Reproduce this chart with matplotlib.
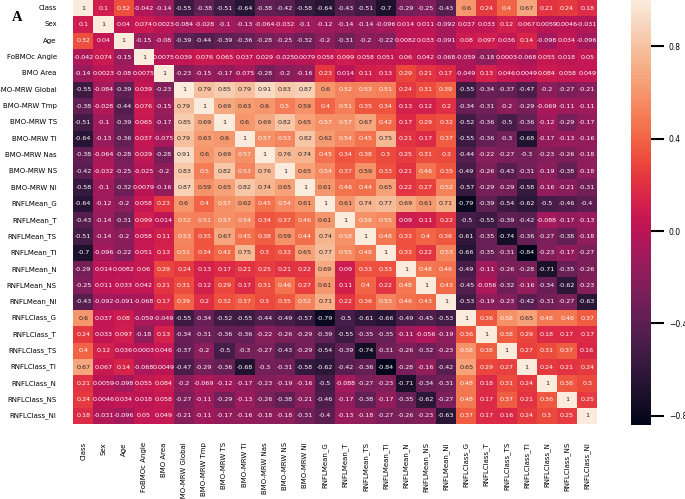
import numpy as np
import matplotlib
matplotlib.use("Agg")
import matplotlib.pyplot as plt
import seaborn as sns

labels = ["Class", "Sex", "Age", "FoBMOc Angle", "BMO Area",
          "BMO-MRW Global", "BMO-MRW Tmp", "BMO-MRW TS", "BMO-MRW TI",
          "BMO-MRW Nas", "BMO-MRW NS", "BMO-MRW NI",
          "RNFLMean_G", "RNFLMean_T", "RNFLMean_TS", "RNFLMean_TI",
          "RNFLMean_N", "RNFLMean_NS", "RNFLMean_NI",
          "RNFLClass_G", "RNFLClass_T", "RNFLClass_TS", "RNFLClass_TI",
          "RNFLClass_N", "RNFLClass_NS", "RNFLClass_NI"]

# upper triangle of the correlation matrix, each row starts right after the diagonal
upper = [
    [0.1, 0.32, -0.042, -0.14, -0.55, -0.38, -0.51, -0.64, -0.38, -0.42, -0.58, -0.64, -0.43, -0.51, -0.7, -0.29, -0.25, -0.43, 0.6, 0.24, 0.4, 0.67, 0.21, 0.24, 0.18],
    [0.04, 0.074, 0.0023, -0.084, -0.028, -0.1, -0.13, -0.064, -0.032, -0.1, -0.12, -0.14, -0.14, -0.096, 0.014, 0.011, -0.092, 0.037, 0.033, 0.12, 0.067, 0.0059, 0.0046, -0.031],
    [-0.15, -0.08, -0.39, -0.44, -0.39, -0.36, -0.28, -0.25, -0.32, -0.2, -0.31, -0.2, -0.22, 0.0082, 0.033, -0.091, 0.08, 0.097, 0.036, 0.14, -0.098, 0.034, -0.096],
    [0.0075, 0.039, 0.076, 0.065, 0.037, 0.029, -0.025, 0.0079, 0.058, 0.099, 0.058, 0.051, 0.06, 0.042, -0.068, -0.059, -0.18, 0.0003, -0.068, 0.055, 0.018, 0.05],
    [-0.23, -0.15, -0.17, -0.075, -0.28, -0.2, -0.16, 0.23, 0.014, 0.11, 0.13, 0.29, 0.21, 0.17, -0.049, 0.13, 0.046, 0.0049, 0.084, 0.058, 0.049],
    [0.79, 0.85, 0.79, 0.91, 0.83, 0.87, 0.6, 0.52, 0.53, 0.51, 0.24, 0.31, 0.39, -0.55, -0.34, -0.37, -0.47, -0.2, -0.27, -0.21],
    [0.69, 0.63, 0.6, 0.5, 0.59, 0.4, 0.51, 0.35, 0.34, 0.13, 0.12, 0.2, -0.34, -0.31, -0.2, -0.29, -0.069, -0.11, -0.11],
    [0.6, 0.69, 0.82, 0.65, 0.57, 0.57, 0.67, 0.42, 0.17, 0.29, 0.32, -0.52, -0.36, -0.5, -0.36, -0.12, -0.29, -0.17],
    [0.57, 0.53, 0.82, 0.62, 0.54, 0.45, 0.75, 0.21, 0.17, 0.37, -0.55, -0.36, -0.3, -0.68, -0.17, -0.13, -0.16],
    [0.76, 0.74, 0.45, 0.34, 0.38, 0.3, 0.25, 0.31, 0.3, -0.44, -0.22, -0.27, -0.3, -0.23, -0.26, -0.18],
    [0.65, 0.54, 0.37, 0.59, 0.33, 0.21, 0.46, 0.35, -0.49, -0.26, -0.43, -0.31, -0.19, -0.38, -0.18],
    [0.61, 0.46, 0.44, 0.65, 0.22, 0.27, 0.52, -0.57, -0.29, -0.29, -0.58, -0.16, -0.21, -0.31],
    [0.61, 0.74, 0.77, 0.69, 0.61, 0.71, -0.79, -0.39, -0.54, -0.62, -0.5, -0.46, -0.4],
    [0.58, 0.55, 0.09, 0.11, 0.22, -0.5, -0.55, -0.39, -0.42, -0.088, -0.17, -0.13],
    [0.48, 0.33, 0.4, 0.36, -0.61, -0.35, -0.74, -0.36, -0.27, -0.38, -0.18],
    [0.33, 0.22, 0.53, -0.66, -0.35, -0.31, -0.84, -0.23, -0.17, -0.27],
    [0.48, 0.46, -0.49, -0.11, -0.26, -0.28, -0.71, -0.35, -0.26],
    [0.43, -0.45, -0.056, -0.32, -0.16, -0.34, -0.62, -0.23],
    [-0.53, -0.19, -0.23, -0.42, -0.31, -0.27, -0.63],
    [0.36, 0.58, 0.65, 0.48, 0.48, 0.37],
    [0.38, 0.29, 0.18, 0.17, 0.17],
    [0.27, 0.31, 0.37, 0.16],
    [0.24, 0.21, 0.24],
    [0.36, 0.3],
    [0.25],
]

n = len(labels)
corr = np.eye(n)
for i, row in enumerate(upper):
    corr[i, i + 1:] = row
    corr[i + 1:, i] = row

fig = plt.figure(figsize=(6.85, 4.99), dpi=100)
ax = fig.add_axes([0.107, 0.150, 0.765, 0.850])
cax = fig.add_axes([0.921, 0.148, 0.029, 0.852])

sns.heatmap(corr, annot=True, fmt=".2g", annot_kws={"size": 4.6},
            xticklabels=labels, yticklabels=labels, ax=ax, cbar_ax=cax)

ax.tick_params(length=0, labelsize=5)
ax.tick_params(axis="y", pad=12)
ax.tick_params(axis="x", pad=13)
ax.set_xticklabels(labels, rotation=90)
ax.set_yticklabels(labels, rotation=0)

cax.tick_params(labelsize=5.5, length=9, width=1.5, pad=4)
cax.set_yticks([-0.8, -0.4, 0.0, 0.4, 0.8])

# panel letter
fig.text(0.017, 0.978, "A", fontsize=10.5, fontweight="bold",
         family="Liberation Serif", va="top")

fig.savefig("out.png", dpi=100)
